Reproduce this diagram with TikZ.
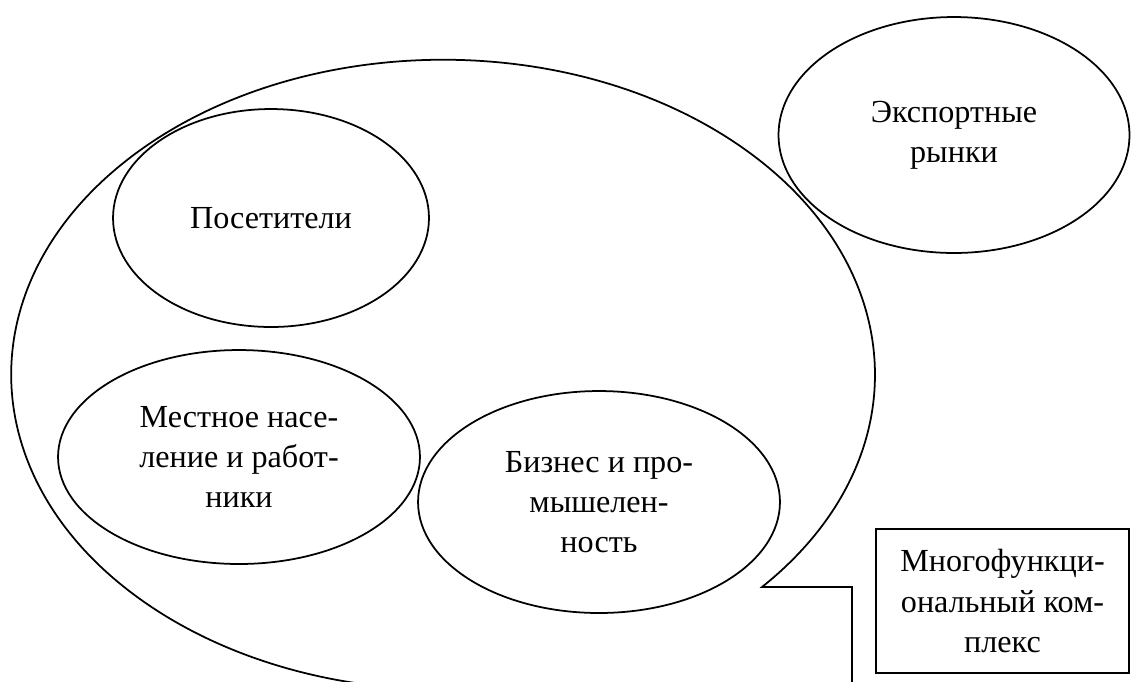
\documentclass[tikz,border=0pt]{standalone}
\usepackage{fontspec}
\setmainfont{Liberation Serif}
\usetikzlibrary{shapes.geometric}

\begin{document}
\begin{tikzpicture}[x=0.02cm,y=-0.02cm,line width=1pt,
    every node/.style={align=center,font=\fontsize{18.3}{22.8}\selectfont},
    sector/.style={ellipse,draw,inner sep=0pt},
    block/.style={rectangle,draw,inner sep=0pt}]
  \useasboundingbox (0,0) rectangle (1131,681);
  \clip (0,0) rectangle (1131,681);
  % big callout round the city
  \coordinate (tail) at (852,700);
  \coordinate (base) at (762,587);
  \draw (tail) -- (852,587) -- (base)
    arc[start angle=-42.4,end angle=262,x radius=8.64cm,y radius=6.3cm];
  \node[sector,minimum width=6.32cm,minimum height=4.36cm] (visitors) at (271,218) {Посетители};
  \node[sector,minimum width=7.02cm,minimum height=4.72cm] (export) at (954,135) {Экспортные\\рынки};
  \node[sector,minimum width=7.24cm,minimum height=4.28cm] (locals) at (239,457) {Местное насе-\\ление и работ-\\ники};
  \node[sector,minimum width=7.24cm,minimum height=4.44cm] (business) at (599,502) {Бизнес и про-\\мышелен-\\ность};
  \node[block,minimum width=5.06cm,minimum height=2.88cm] (complex) at (1002.5,601) {Многофункци-\\ональный ком-\\плекс};
\end{tikzpicture}
\end{document}
